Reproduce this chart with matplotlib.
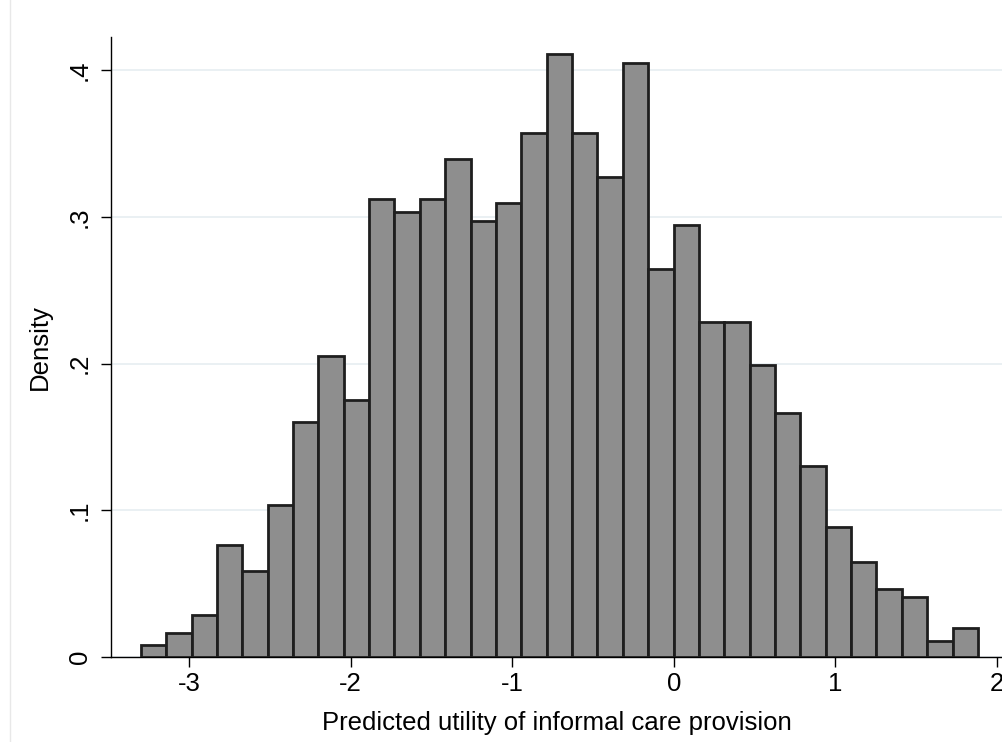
import matplotlib

matplotlib.use("Agg")
import matplotlib.pyplot as plt
import numpy as np
from matplotlib.lines import Line2D


# histogram bins (Stata style, 33 bins)
BIN_START = -3.299
BIN_WIDTH = 0.157
DENSITY = [
    0.0080, 0.0166, 0.0286, 0.0766, 0.0588, 0.1034, 0.1602, 0.2052, 0.1752,
    0.3124, 0.3033, 0.3124, 0.3395, 0.2972, 0.3093, 0.3570, 0.4110, 0.3570,
    0.3274, 0.4047, 0.2643, 0.2945, 0.2284, 0.2284, 0.1990, 0.1660, 0.1302,
    0.0886, 0.0646, 0.0466, 0.0407, 0.0111, 0.0198,
]
X_TICKS = [-3, -2, -1, 0, 1, 2]
Y_TICKS = [0, 0.1, 0.2, 0.3, 0.4]
Y_TICK_LABELS = ["0", ".1", ".2", ".3", ".4"]
X_LABEL = "Predicted utility of informal care provision"
Y_LABEL = "Density"


def configure_matplotlib() -> None:
    plt.rcParams["font.family"] = ["Liberation Sans", "DejaVu Sans"]
    plt.rcParams["font.size"] = 18.5


def main():
    configure_matplotlib()
    fig = plt.figure(figsize=(10.03, 7.42), dpi=100)
    ax = fig.add_axes([0.1107, 0.1146, 0.8893, 0.8355])

    lefts = BIN_START + BIN_WIDTH * np.arange(len(DENSITY))
    ax.bar(
        lefts,
        DENSITY,
        width=BIN_WIDTH,
        align="edge",
        color="#8e8e8e",
        edgecolor="#1e1e1e",
        linewidth=2.0,
        zorder=3,
    )

    ax.set_xlim(-3.483, 2.037)
    ax.set_ylim(0, 0.4226)
    ax.set_xticks(X_TICKS)
    ax.set_xticklabels([str(t) for t in X_TICKS])
    ax.set_yticks(Y_TICKS)
    ax.set_yticklabels(Y_TICK_LABELS, rotation=90, va="center")
    ax.tick_params(axis="both", length=7.0, width=1.0, color="#000000")
    ax.tick_params(axis="x", pad=3.6)
    ax.tick_params(axis="y", pad=7)

    ax.grid(axis="y", color="#e8eff2", linewidth=1.3, zorder=0)
    for side in ["top", "right"]:
        ax.spines[side].set_visible(False)
    for side in ["left", "bottom"]:
        ax.spines[side].set_linewidth(1.0)
        ax.spines[side].set_color("#000000")

    ax.set_xlabel(X_LABEL, labelpad=11)
    ax.set_ylabel(Y_LABEL, labelpad=11.5)

    # faint graph-region border on the left
    fig.add_artist(Line2D([0.010, 0.010], [0.0, 1.0], transform=fig.transFigure,
                          color="#e8e8e8", linewidth=1.0))

    fig.savefig("out.png", dpi=100)
    plt.close(fig)


if __name__ == "__main__":
    main()
